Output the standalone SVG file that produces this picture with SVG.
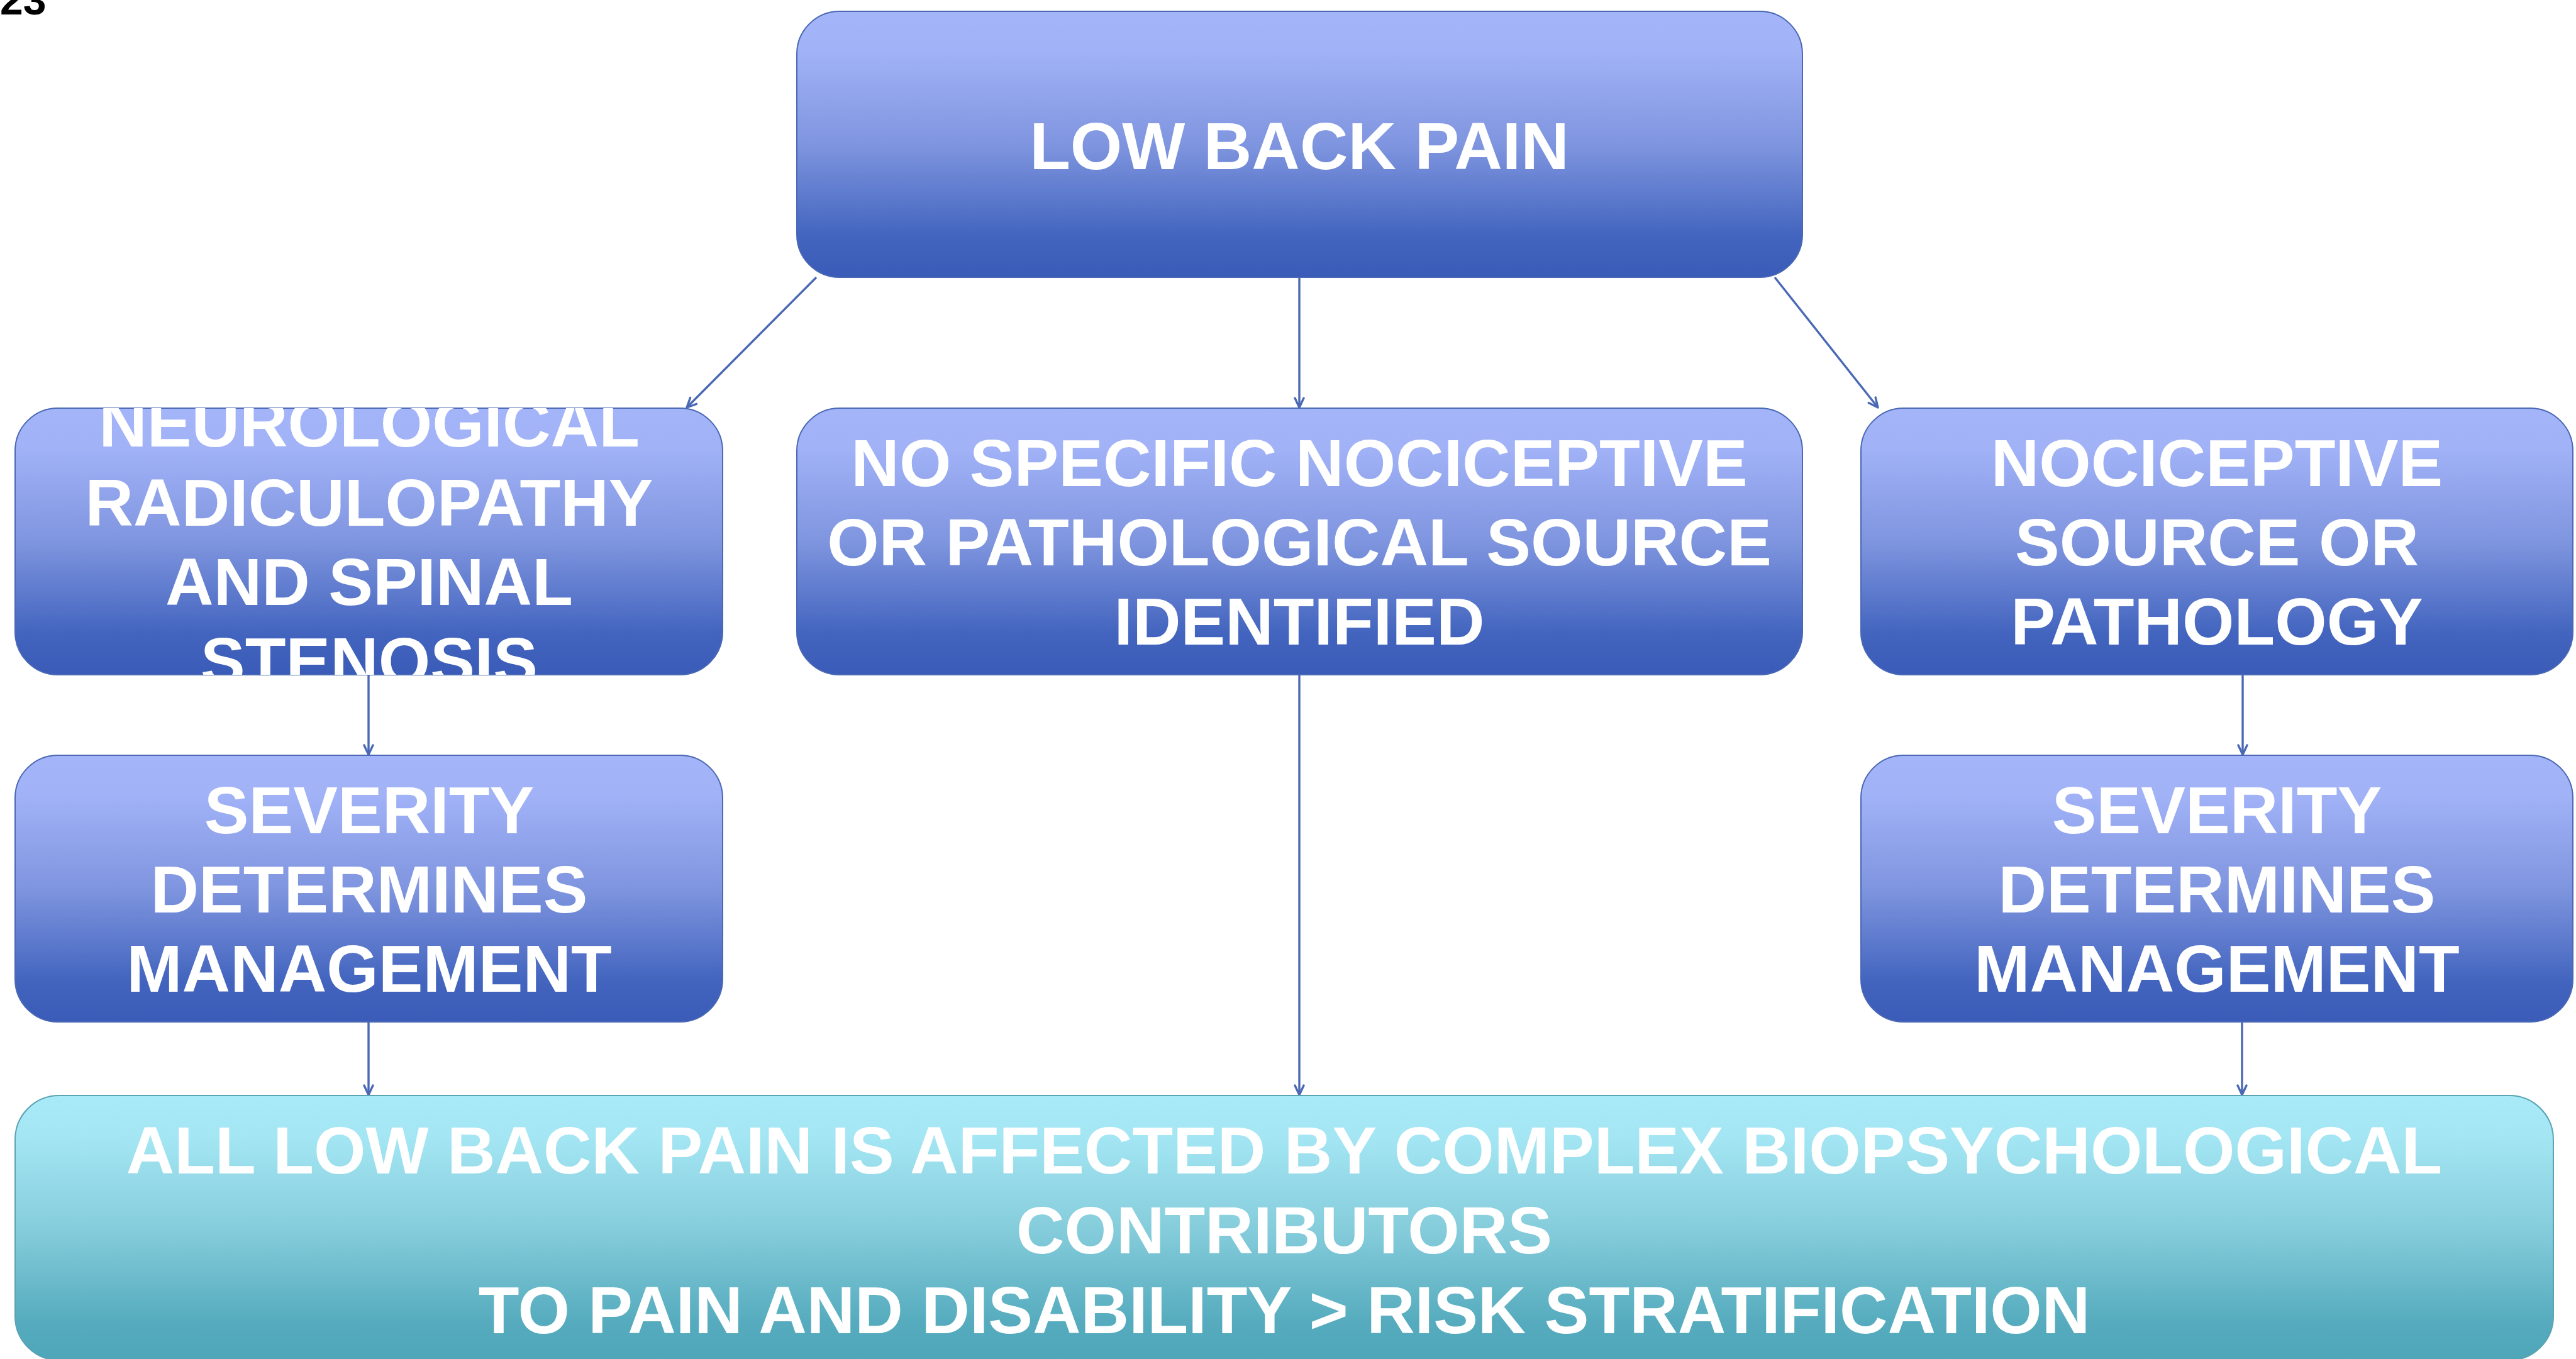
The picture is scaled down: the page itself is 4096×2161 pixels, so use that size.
<svg xmlns="http://www.w3.org/2000/svg" width="4096" height="2161" viewBox="0 0 4096 2161">
<style>
.box{fill:url(#gBlue);stroke:#4a68b4;stroke-width:2}
.bbox{fill:url(#gCyan);stroke:#5aa3b3;stroke-width:2}
.t{font-family:"Liberation Sans",Arial,sans-serif;font-weight:bold;font-size:106px;fill:#ffffff;text-anchor:middle}
.c{stroke:#4a68b4;stroke-width:3.4;fill:none}
</style>
<defs>
<linearGradient id="gBlue" x1="0" y1="0" x2="0" y2="1">
<stop offset="0" stop-color="#a3b4f9"/>
<stop offset="0.15" stop-color="#a1b2f7"/>
<stop offset="0.5" stop-color="#7f95df"/>
<stop offset="0.85" stop-color="#4264be"/>
<stop offset="1" stop-color="#3a5cb8"/>
</linearGradient>
<linearGradient id="gCyan" x1="0" y1="0" x2="0" y2="1">
<stop offset="0" stop-color="#a8eaf8"/>
<stop offset="0.15" stop-color="#a4e6f4"/>
<stop offset="0.5" stop-color="#86cddc"/>
<stop offset="0.85" stop-color="#56acbe"/>
<stop offset="1" stop-color="#4ea6b8"/>
</linearGradient>
<marker id="arr" viewBox="0 0 20 20" refX="18" refY="10" markerWidth="20" markerHeight="20" markerUnits="userSpaceOnUse" orient="auto">
<path d="M3,3 L18,10 L3,17" fill="none" stroke="#4a68b4" stroke-width="3.4" stroke-linecap="round" stroke-linejoin="round"/>
</marker>
<clipPath id="clipL"><rect x="24" y="649" width="1125" height="424" rx="68"/></clipPath>
</defs>
<rect width="4096" height="2161" fill="#ffffff"/>
<text x="0" y="23" style="font-family:'Liberation Sans',Arial,sans-serif;font-weight:bold;font-size:66px;fill:#000000">23</text>

<g id="connectors">
<line class="c" x1="1298" y1="441" x2="1092" y2="648" marker-end="url(#arr)"/>
<line class="c" x1="2066" y1="441" x2="2066" y2="648" marker-end="url(#arr)"/>
<line class="c" x1="2822" y1="441" x2="2986" y2="648" marker-end="url(#arr)"/>
<line class="c" x1="586" y1="1073" x2="586" y2="1200" marker-end="url(#arr)"/>
<line class="c" x1="3566" y1="1073" x2="3566" y2="1200" marker-end="url(#arr)"/>
<line class="c" x1="586" y1="1625" x2="586" y2="1741" marker-end="url(#arr)"/>
<line class="c" x1="3565" y1="1625" x2="3565" y2="1741" marker-end="url(#arr)"/>
<line class="c" x1="2066" y1="1073" x2="2066" y2="1741" marker-end="url(#arr)"/>
</g>

<g id="node-lbp">
<rect class="box" x="1267" y="18" width="1599" height="423" rx="68"/>
<text class="t" x="2066" y="269">LOW BACK PAIN</text>
</g>

<g id="node-neuro">
<rect class="box" x="24" y="649" width="1125" height="424" rx="68"/>
<g clip-path="url(#clipL)">
<text class="t" x="587" y="710">NEUROLOGICAL</text>
<text class="t" x="587" y="836">RADICULOPATHY</text>
<text class="t" x="587" y="962">AND SPINAL</text>
<text class="t" x="587" y="1088">STENOSIS</text>
</g>
</g>

<g id="node-nonspecific">
<rect class="box" x="1267" y="649" width="1599" height="424" rx="68"/>
<text class="t" x="2066" y="773">NO SPECIFIC NOCICEPTIVE</text>
<text class="t" x="2066" y="899">OR PATHOLOGICAL SOURCE</text>
<text class="t" x="2066" y="1025">IDENTIFIED</text>
</g>

<g id="node-nociceptive">
<rect class="box" x="2959" y="649" width="1132" height="424" rx="68"/>
<text class="t" x="3525" y="773">NOCICEPTIVE</text>
<text class="t" x="3525" y="899">SOURCE OR</text>
<text class="t" x="3525" y="1025">PATHOLOGY</text>
</g>

<g id="node-severity-left">
<rect class="box" x="24" y="1201" width="1125" height="424" rx="68"/>
<text class="t" x="587" y="1325">SEVERITY</text>
<text class="t" x="587" y="1451">DETERMINES</text>
<text class="t" x="587" y="1577">MANAGEMENT</text>
</g>

<g id="node-severity-right">
<rect class="box" x="2959" y="1201" width="1132" height="424" rx="68"/>
<text class="t" x="3525" y="1325">SEVERITY</text>
<text class="t" x="3525" y="1451">DETERMINES</text>
<text class="t" x="3525" y="1577">MANAGEMENT</text>
</g>

<g id="node-all">
<rect class="bbox" x="24" y="1742" width="4036" height="421" rx="70"/>
<text class="t" x="2042" y="1866">ALL LOW BACK PAIN IS AFFECTED BY COMPLEX BIOPSYCHOLOGICAL</text>
<text class="t" x="2042" y="1993">CONTRIBUTORS</text>
<text class="t" x="2042" y="2120">TO PAIN AND DISABILITY &gt; RISK STRATIFICATION</text>
</g>
</svg>
